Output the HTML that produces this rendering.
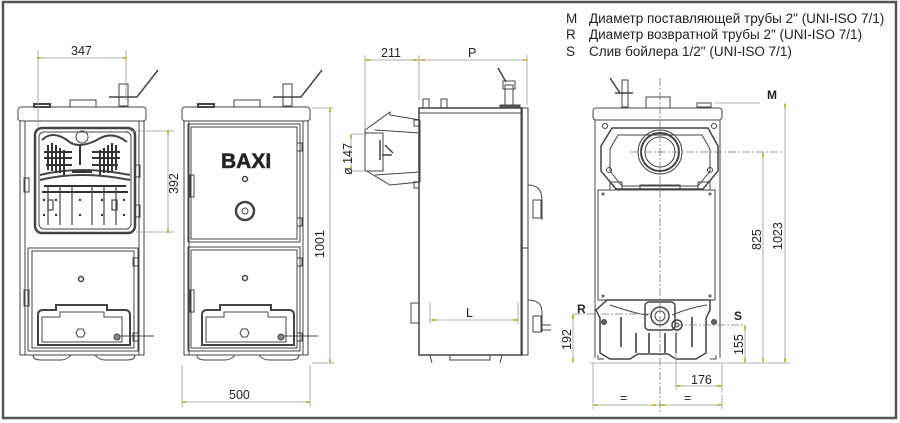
<!DOCTYPE html>
<html><head><meta charset="utf-8"><style>
html,body{margin:0;padding:0;background:#fff;width:900px;height:423px;overflow:hidden}
svg{display:block}
text{font-family:"Liberation Sans",sans-serif;fill:#222}
</style></head><body>
<svg width="900" height="423" viewBox="0 0 900 423" xmlns="http://www.w3.org/2000/svg">
<rect x="3" y="2" width="893" height="416" fill="none" stroke="#555" stroke-width="2.5"/>

<g font-size="13.5">
<text x="566" y="23">M</text><text x="589" y="23">Диаметр поставляющей трубы 2" (UNI-ISO 7/1)</text>
<text x="566" y="39">R</text><text x="589" y="39">Диаметр возвратной трубы 2" (UNI-ISO 7/1)</text>
<text x="566" y="56">S</text><text x="589" y="56">Слив бойлера 1/2" (UNI-ISO 7/1)</text>
</g>

<g fill="none" stroke="#444" stroke-width="1">
<rect x="18" y="107" width="128" height="14" rx="3"/>
<rect x="20" y="121" width="124" height="234"/>
<rect x="25" y="121" width="114" height="234"/>
<path d="M33 355 q0 5 8 5 h20 q6 0 10-5 M95 355 q4 5 10 5 h22 q8 0 8-5"/>
<rect x="34" y="104" width="16" height="3" stroke-width="2"/>
<rect x="70" y="100" width="26" height="7"/>
<rect x="119" y="84" width="9" height="22"/>
<path d="M109 97 h28 l21-27" stroke-width="1.5"/>
<rect x="35" y="128" width="100" height="105" rx="7" stroke-width="2.5"/>
<rect x="39" y="132" width="92" height="97" rx="5"/>
<path d="M40 175 q40-10 90 0 M40 180 q40-10 90 0" stroke-width="2"/>
<path d="M42 140 q10-10 25 0 q10 10 30 0 q15-10 30 2" stroke-width="2"/>
<circle cx="82" cy="137" r="6"/>
<g stroke-width="2" stroke="#333">
<path d="M48 145 v25 M52 143 v28 M56 145 v28 M60 148 v25 M64 150 v25 M100 150 v25 M104 148 v25 M108 145 v28 M112 143 v28 M116 145 v25 M44 152 h28 M92 152 h28 M44 158 h28 M92 158 h28 M46 165 h26 M92 165 h26 M80 145 v20 M72 172 h20"/>
<path d="M44 186 h82 M42 192 h86"/>
</g>
<g stroke-width="1.2">
<path d="M48 185 v40 M60 185 v40 M72 185 v40 M92 185 v40 M104 185 v40 M116 185 v40"/>
<rect x="48" y="200" width="5" height="10"/><rect x="112" y="200" width="5" height="10"/>
</g>
<g fill="#333" stroke="none">
<circle cx="44" cy="200" r="1.2"/><circle cx="56" cy="200" r="1.2"/><circle cx="80" cy="200" r="1.2"/><circle cx="102" cy="200" r="1.2"/><circle cx="124" cy="200" r="1.2"/>
<circle cx="44" cy="215" r="1.2"/><circle cx="56" cy="215" r="1.2"/><circle cx="80" cy="215" r="1.2"/><circle cx="102" cy="215" r="1.2"/><circle cx="124" cy="215" r="1.2"/>
</g>
<rect x="28" y="248" width="110" height="103"/>
<rect x="32" y="251" width="102" height="97"/>
<circle cx="81" cy="279" r="2.5" stroke-width="1.5"/>
<path d="M38 345 v-30 q0-5 5-5 h13 v-5 h51 v5 h18 q5 0 5 5 v30 z" stroke-width="2"/>
<path d="M42 342 v-25 h18 v-5 h44 v5 h18 v25 z"/>
<polygon points="76,333 78,329 83,329 85,333 83,337 78,337"/>
<circle cx="117" cy="337" r="3" fill="#888"/>
<path d="M120 336 h34"/>
<rect x="135" y="165" width="5" height="12"/><rect x="135" y="205" width="5" height="12"/>
<rect x="133" y="258" width="5" height="8"/><rect x="133" y="333" width="5" height="8"/>
<rect x="24" y="178" width="5" height="14"/><rect x="24" y="290" width="5" height="16"/>

<rect x="182" y="107" width="128" height="14" rx="3"/>
<rect x="184" y="121" width="124" height="234"/>
<rect x="189" y="121" width="114" height="234"/>
<path d="M197 355 q0 5 8 5 h20 q6 0 10-5 M259 355 q4 5 10 5 h22 q8 0 8-5"/>
<rect x="198" y="104" width="16" height="3" stroke-width="2"/>
<rect x="234" y="100" width="26" height="7"/>
<rect x="283" y="84" width="9" height="22"/>
<path d="M273 97 h28 l21-27" stroke-width="1.5"/>
<rect x="188" y="124" width="112" height="118"/>
<rect x="191" y="127" width="106" height="112"/>
<rect x="188" y="247" width="112" height="104"/>
<rect x="191" y="250" width="106" height="98"/>
<circle cx="245" cy="179" r="2.5" stroke-width="1.5"/>
<circle cx="245" cy="211" r="9" stroke-width="2.5"/>
<circle cx="245" cy="211" r="3"/>
<circle cx="245" cy="278" r="2.5" stroke-width="1.5"/>
<path d="M202 345 v-30 q0-5 5-5 h13 v-5 h51 v5 h18 q5 0 5 5 v30 z" stroke-width="2"/>
<path d="M206 342 v-25 h18 v-5 h44 v5 h18 v25 z"/>
<polygon points="240,333 242,329 247,329 249,333 247,337 242,337"/>
<circle cx="281" cy="337" r="3" fill="#888"/>
<path d="M284 336 h34"/>
<rect x="297" y="143" width="5" height="8"/><rect x="297" y="218" width="5" height="8"/>
<rect x="297" y="258" width="5" height="8"/><rect x="297" y="333" width="5" height="8"/>
<rect x="190" y="175" width="4" height="22"/><rect x="190" y="290" width="4" height="22"/>

<rect x="419" y="108" width="103" height="247" stroke-width="1.5"/>
<path d="M419 113 h103"/>
<rect x="521" y="108" width="7" height="247"/>
<path d="M522 248 h6"/>
<rect x="423" y="99" width="6" height="9"/><rect x="441" y="99" width="6" height="9"/>
<rect x="500" y="105" width="20" height="3" fill="#555"/>
<rect x="505" y="85" width="8" height="20"/>
<rect x="503" y="81" width="12" height="8"/>
<path d="M506 82 l-8-14" stroke-width="1.5"/>
<path d="M420 120 l-30-5 v-3 l-25 18 v40 l25 15 l30-3 z"/>
<rect x="365" y="133" width="18" height="38"/>
<path d="M375 130 l45 3 M375 175 l45 -3"/>
<path d="M380 140 v20 M385 145 l8 8 M382 155 h10" stroke-width="1.5"/>
<rect x="414" y="120" width="5" height="6"/><rect x="414" y="182" width="5" height="6"/>
<path d="M528 185 q14 0 14 15 v20 M528 300 q14 0 14 12 v20"/>
<rect x="533" y="200" width="8" height="18"/><rect x="533" y="316" width="8" height="16"/>
<path d="M541 325 h10 M541 330 h10"/>
<rect x="411" y="303" width="8" height="20"/>
<path d="M430 355 l2 8 M502 355 l-2 8 M450 355 v5 h40 v-5"/>

<rect x="593" y="108" width="129" height="12" rx="3"/>
<path d="M595 120 v238 M720 120 v238"/>
<path d="M612 128 h96 l10 18 v25 l-15 18 h-87 l-15-18 v-25 z" stroke-width="1.5"/>
<path d="M618 135 h84 l8 14 v22 l-12 15 h-76 l-12-15 v-22 z"/>
<circle cx="660" cy="152" r="19" stroke-width="2"/>
<circle cx="660" cy="152" r="15"/>
<circle cx="660" cy="152" r="22"/>
<rect x="646" y="97" width="24" height="11"/>
<rect x="622" y="80" width="6" height="27"/>
<path d="M615 93 h18 M620 93 l-10-15" stroke-width="1.5"/>
<rect x="697" y="103" width="14" height="4"/>
<circle cx="605" cy="126" r="2.5"/><circle cx="714" cy="126" r="2.5"/>
<circle cx="609" cy="170" r="2.5"/><circle cx="710" cy="170" r="2.5"/>
<path d="M610 190 v-8 h12 v8 M698 190 v-8 h12 v8 M640 190 v-5 h40 v5"/>
<rect x="598" y="190" width="117" height="110" fill="#fff"/>
<circle cx="603" cy="194" r="1"/><circle cx="710" cy="194" r="1"/>
<circle cx="603" cy="296" r="1"/><circle cx="710" cy="296" r="1"/>
<path d="M607 300 h103 v10 l-4 8 v35 l-10 6 h-20 l-8-5 h-30 l-8 5 h-20 l-10-6 v-35 l-4-8 z" stroke-width="1.5"/>
<path d="M610 305 q30 10 38 10 M672 315 q20-8 35-10"/>
<rect x="645" y="302" width="30" height="28" rx="4" stroke-width="1.5"/>
<circle cx="660" cy="316" r="9" stroke-width="1.5"/><circle cx="660" cy="316" r="5"/>
<circle cx="677" cy="325" r="5" stroke-width="1.5"/><circle cx="677" cy="325" r="2"/>
<circle cx="604" cy="322" r="2.5" fill="#666"/><circle cx="714" cy="322" r="2.5" fill="#666"/>
<g stroke-width="1.8" stroke="#555">
<path d="M621 317 v30 M636 333 v20 M649 333 v20 M665 333 v20 M676 333 v20 M692 317 v30"/>
</g>
<path d="M598 355 v4 h6 M716 355 v4 h-6"/>
</g>

<g stroke="#777" stroke-width="0.8" stroke-dasharray="8,2,2,2" fill="none">
<path d="M660 78 v335"/>
<path d="M630 152 h155"/>
<path d="M573 314 h77 M675 325 h70"/>
</g>

<g stroke="#9a9a9a" stroke-width="0.8" fill="none">
<path d="M38 58 h88 M38 50 v78 M126 50 v50"/>
<path d="M168 131 v101 M126 131 h48 M136 232 h38"/>
<path d="M330 108 v255 M312 108 h22 M312 363 h22"/>
<path d="M182 402 h128 M182 365 v42 M310 365 v42"/>
<path d="M365 60 h162 M365 55 v75 M419 55 v45 M527 55 v50"/>
<path d="M351 134 v37 M351 134 h16 M351 171 h16"/>
<path d="M430 320 h88 M430 302 v22 M518 302 v22"/>
<path d="M760 103 h-45 M785 103 v260 M763 152 v211 M590 363 h200"/>
<path d="M745 325 v38 M573 314 v49"/>
<path d="M676 386 h46 M676 330 v60 M722 363 v30"/>
<path d="M593 405 h129 M593 363 v46 M722 395 v14"/>
</g>
<g fill="#c8b84a">
<rect x="37" y="57" width="4" height="2"/><rect x="123" y="57" width="4" height="2"/>
<rect x="167" y="130" width="2" height="4"/><rect x="167" y="229" width="2" height="4"/>
<rect x="329" y="108" width="2" height="4"/><rect x="329" y="359" width="2" height="4"/>
<rect x="182" y="401" width="4" height="2"/><rect x="306" y="401" width="4" height="2"/>
<rect x="366" y="59" width="4" height="2"/><rect x="413" y="59" width="4" height="2"/><rect x="421" y="59" width="4" height="2"/><rect x="523" y="59" width="4" height="2"/>
<rect x="350" y="135" width="2" height="4"/><rect x="350" y="166" width="2" height="4"/>
<rect x="432" y="319" width="4" height="2"/><rect x="513" y="319" width="4" height="2"/>
<rect x="784" y="104" width="2" height="4"/><rect x="784" y="358" width="2" height="4"/>
<rect x="762" y="153" width="2" height="4"/><rect x="762" y="358" width="2" height="4"/>
<rect x="744" y="326" width="2" height="4"/><rect x="744" y="358" width="2" height="4"/>
<rect x="572" y="315" width="2" height="4"/><rect x="572" y="358" width="2" height="4"/>
<rect x="677" y="385" width="4" height="2"/><rect x="717" y="385" width="4" height="2"/>
<rect x="594" y="404" width="4" height="2"/><rect x="652" y="404" width="4" height="2"/><rect x="661" y="404" width="4" height="2"/><rect x="717" y="404" width="4" height="2"/>
</g>

<g font-size="12.5">
<text x="71" y="55">347</text>
<text x="229" y="399">500</text>
<text x="381" y="57">211</text>
<text x="468" y="57">P</text>
<text x="466" y="317">L</text>
<text x="691" y="384">176</text>
<text x="620" y="402">=</text>
<text x="684" y="402">=</text>
<text transform="translate(178,194) rotate(-90)">392</text>
<text transform="translate(324,258) rotate(-90)">1001</text>
<text transform="translate(352,175) rotate(-90)">ø 147</text>
<text transform="translate(571,350) rotate(-90)">192</text>
<text transform="translate(743,355) rotate(-90)">155</text>
<text transform="translate(761,250) rotate(-90)">825</text>
<text transform="translate(782,250) rotate(-90)">1023</text>
</g>
<g font-size="12" font-weight="bold">
<text x="767" y="99">M</text>
<text x="577" y="313">R</text>
<text x="734" y="320">S</text>
</g>
<text x="221" y="168" font-size="21" font-weight="bold" fill="#333" stroke="#333" stroke-width="0.6">BAXI</text>
</svg>
</body></html>
